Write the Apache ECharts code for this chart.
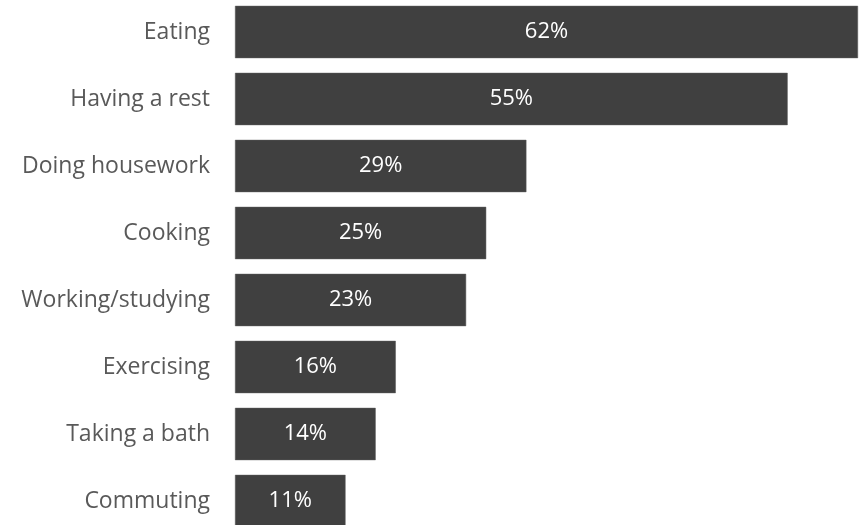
<!DOCTYPE html>
<html><head><meta charset="utf-8">
<script src="https://cdn.jsdelivr.net/npm/echarts@6/dist/echarts.min.js"></script>
<style>html,body{margin:0;padding:0;background:#fff}#c{width:859px;height:525px}</style>
</head><body><div id="c"></div>
<script>
var categories = ["Eating","Having a rest","Doing housework","Cooking","Working/studying","Exercising","Taking a bath","Commuting"];
var values = [62,55,29,25,23,16,14,11];

var chart = echarts.init(document.getElementById('c'), null, {renderer:'canvas'});
chart.setOption({
  animation:false,
  grid:{left:235, top:-1.5, width:623, height:536, containLabel:false, outerBoundsMode:'none'},
  xAxis:{type:'value', min:0, max:62, show:false},
  yAxis:{type:'category', data:categories, inverse:true,
    axisLine:{show:false}, axisTick:{show:false}, splitLine:{show:false},
    axisLabel:{color:'#595959', fontSize:23, fontFamily:'Open Sans', margin:25}},
  series:[{type:'bar', data:values, barCategoryGap:'22%',
    itemStyle:{color:'#404040', borderColor:'#5a5a5a', borderWidth:0.5},
    label:{show:true, position:'inside', color:'#ffffff', fontSize:22, fontFamily:'Open Sans',
      formatter:function(p){return p.value+'%';}}}]
});
</script></body></html>
